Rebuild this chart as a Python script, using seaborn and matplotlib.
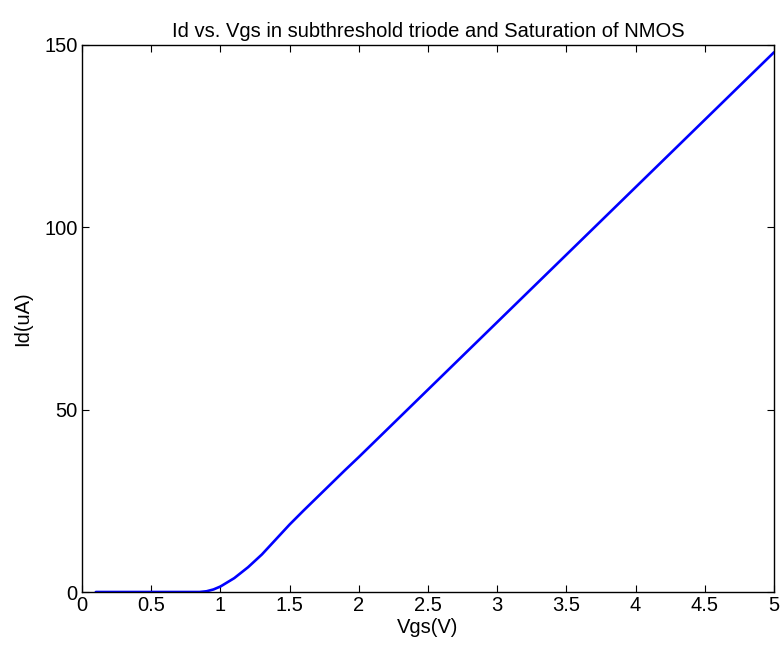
import matplotlib
matplotlib.use("Agg")
import matplotlib.pyplot as plt
import seaborn as sns
import pandas as pd

vgs = [0.1, 0.2, 0.3, 0.4, 0.5, 0.6, 0.7, 0.8, 0.85, 0.9, 0.95, 1.0, 1.1, 1.2, 1.3, 1.4,
       1.5, 1.6, 1.7, 1.8, 1.9, 2.0, 2.1, 2.2, 2.3, 2.4, 2.5, 2.6, 2.7, 2.8, 2.9,
       3.0, 3.1, 3.2, 3.3, 3.4, 3.5, 3.6, 3.7, 3.8, 3.9, 4.0, 4.1, 4.2, 4.3, 4.4,
       4.5, 4.6, 4.7, 4.8, 4.9, 5.0]
id_ua = [0.0, 0.0, 0.0, 0.0, 0.0, 0.0, 0.0, 0.0, 0.0, 0.2, 0.7, 1.5, 3.8, 6.8, 10.3, 14.4,
         18.5, 22.3, 26.0, 29.7, 33.4, 37.0, 40.7, 44.4, 48.1, 51.8, 55.5, 59.2, 62.9, 66.6, 70.3,
         74.0, 77.7, 81.4, 85.1, 88.8, 92.5, 96.2, 99.9, 103.6, 107.3, 111.0, 114.7, 118.4, 122.1, 125.8,
         129.5, 133.2, 136.9, 140.6, 144.3, 148.0]
xticks = [0, 0.5, 1, 1.5, 2, 2.5, 3, 3.5, 4, 4.5, 5]
xticklabels = ["0", "0.5", "1", "1.5", "2", "2.5", "3", "3.5", "4", "4.5", "5"]
yticks = [0, 50, 100, 150]

df = pd.DataFrame({"Vgs": vgs, "Id": id_ua})

sns.set_theme(style="white")
plt.rcParams['font.family'] = ['Liberation Sans', 'DejaVu Sans']

fs = 14.5
fig = plt.figure(figsize=(7.83, 6.48), dpi=100)
ax = fig.add_axes([82/783, 1 - 592/648, (774 - 82)/783, (592 - 45)/648])
sns.lineplot(data=df, x="Vgs", y="Id", ax=ax, color=(0, 0, 1), linewidth=1.9)

ax.set_xlim(0, 5)
ax.set_ylim(0, 150)
ax.set_xticks(xticks)
ax.set_xticklabels(xticklabels)
ax.set_yticks(yticks)
ax.tick_params(direction="in", length=5, width=0.8, color="black", labelsize=fs,
               top=True, right=True, left=True, bottom=True, labelcolor="black", pad=3)
for s in ax.spines.values():
    s.set_color("black")
    s.set_linewidth(1.0)
ax.set_xlabel("Vgs(V)", fontsize=fs, color="black", labelpad=2)
ax.set_ylabel("Id(uA)", fontsize=fs, color="black", labelpad=9)
ax.set_title("Id vs. Vgs in subthreshold triode and Saturation of NMOS", fontsize=fs,
             color="black", pad=6)
ax.grid(False)
fig.savefig("out.png", dpi=100)
